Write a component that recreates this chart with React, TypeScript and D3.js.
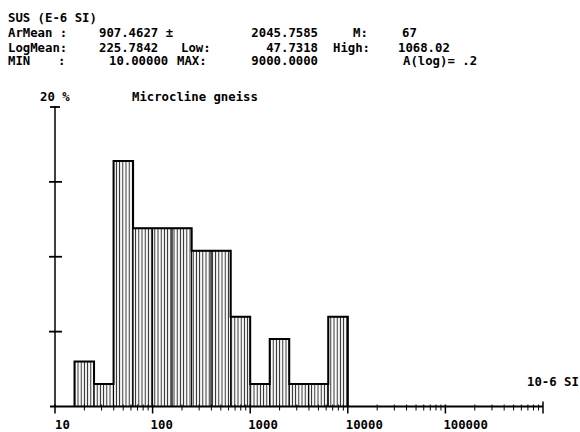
import React from "react";
import * as d3 from "d3";

// histogram of susceptibility, log bins of 0.2 (A(log)= .2)
const logBinStart = [1.2, 1.4, 1.6, 1.8, 2.0, 2.2, 2.4, 2.6, 2.8, 3.0, 3.2, 3.4, 3.6, 3.8];
const binWidthLog = 0.2;
const percent = [3.0, 1.5, 16.4, 11.9, 11.9, 11.9, 10.4, 10.4, 6.0, 1.5, 4.5, 1.5, 1.5, 6.0];

const xTickValues = [10, 100, 1000, 10000, 100000];
const xTickLabels = ["10", "100", "1000", "10000", "100000"];
const yTickValues = [5, 10, 15, 20];

const headerRows = [
  [["SUS (E-6 SI)", 8, "start"]],
  [["ArMean :", 8, "start"], ["907.4627 \u00b1", 99, "start"], ["2045.7585", 318, "end"], ["M:", 353, "start"], ["67", 402, "start"]],
  [["LogMean:", 8, "start"], ["225.7842", 99, "start"], ["Low:", 181, "start"], ["47.7318", 318, "end"], ["High:", 333, "start"], ["1068.02", 398, "start"]],
  [["MIN", 8, "start"], [":", 58, "start"], ["10.00000", 109, "start"], ["MAX:", 177, "start"], ["9000.0000", 318, "end"], ["A(log)= .2", 403, "start"]],
];
const headerY = [21.5, 37, 51.5, 65];

const font = "'DejaVu Sans Mono', monospace";

export default function App() {
  const x = d3.scaleLog().domain([10, 1e6]).range([55, 543]);
  const y = d3.scaleLinear().domain([0, 20]).range([406.5, 107]);
  const base = y(0);

  // minor log ticks 2..9 in every decade
  const minor: number[] = [];
  for (let e = 1; e < 6; e++) {
    for (let m = 2; m < 10; m++) minor.push(m * Math.pow(10, e));
  }

  const bars = logBinStart.map((s, i) => ({
    x0: x(Math.pow(10, s)),
    x1: x(Math.pow(10, s + binWidthLog)),
    top: y(percent[i]),
  }));

  // outer step outline of the histogram
  let outline = `M${bars[0].x0},${base}`;
  bars.forEach((b) => {
    outline += `L${b.x0},${b.top}L${b.x1},${b.top}`;
  });
  outline += `L${bars[bars.length - 1].x1},${base}`;

  return (
    <svg width={580} height={432} style={{ position: "fixed", left: 0, top: 0, background: "#fff" }}>
      <defs>
        <pattern id="hatch" patternUnits="userSpaceOnUse" width={3.2} height={10}>
          <rect width={3.2} height={10} fill="#fff" />
          <line x1={1.2} x2={1.2} y1={0} y2={10} stroke="#222" strokeWidth={1} />
        </pattern>
      </defs>

      <g fontFamily={font} fontWeight="bold" fontSize={12.3} fill="#000">
        {headerRows.map((row, r) =>
          row.map(([t, px, anchor], k) => (
            <text key={r + "-" + k} x={px as number} y={headerY[r]} textAnchor={anchor as string}>
              {t}
            </text>
          ))
        )}
        <text x={40} y={101}>20 %</text>
        <text x={132} y={101}>Microcline gneiss</text>
        <text x={527} y={386}>10-6 SI</text>
        {xTickValues.map((v, i) => (
          <text key={v} x={x(v) - (i === 0 ? 0 : 2)} y={429}>
            {xTickLabels[i]}
          </text>
        ))}
      </g>

      {/* bars */}
      {bars.map((b, i) => (
        <rect
          key={i}
          x={b.x0}
          y={b.top}
          width={b.x1 - b.x0}
          height={base - b.top}
          fill="url(#hatch)"
          stroke="#000"
          strokeWidth={1}
        />
      ))}
      <path d={outline} fill="none" stroke="#000" strokeWidth={2} />

      {/* y axis */}
      <line x1={55} x2={55} y1={y(20) - 1} y2={base} stroke="#000" strokeWidth={1.5} />
      {yTickValues.map((v) => (
        <line
          key={v}
          x1={v === 20 ? 50 : 49}
          x2={v === 20 ? 60 : 62}
          y1={y(v)}
          y2={y(v)}
          stroke="#000"
          strokeWidth={1.8}
        />
      ))}

      {/* x axis */}
      <line x1={50} x2={543} y1={base} y2={base} stroke="#000" strokeWidth={2} />
      {minor.map((v) => (
        <line key={v} x1={x(v)} x2={x(v)} y1={base - 2} y2={base + 4} stroke="#000" strokeWidth={1} />
      ))}
      {xTickValues.map((v) => (
        <line key={v} x1={x(v)} x2={x(v)} y1={base - 2} y2={base + 7} stroke="#000" strokeWidth={1.5} />
      ))}
      <line x1={543} x2={543} y1={base - 5} y2={base + 7} stroke="#000" strokeWidth={1.5} />
    </svg>
  );
}
